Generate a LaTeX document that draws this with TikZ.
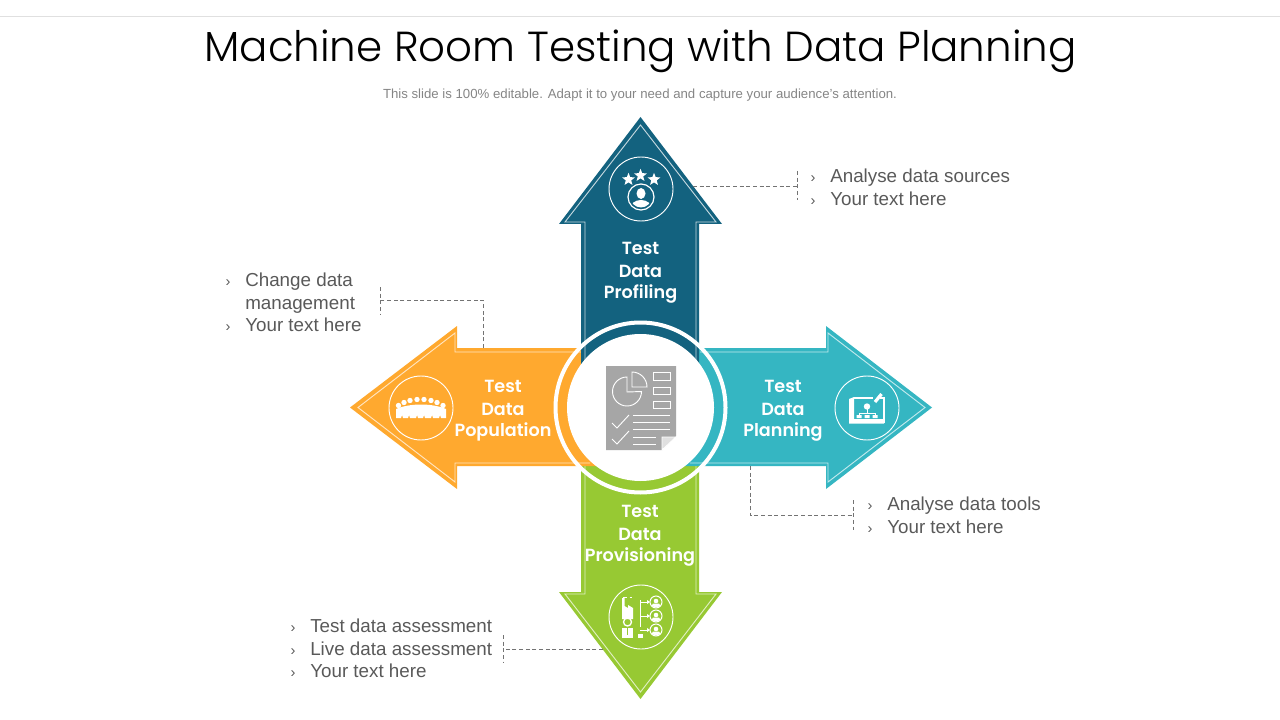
\documentclass[tikz,border=0pt]{standalone}
\usepackage{fontspec}
\setmainfont{Liberation Sans}
\newfontfamily\titlefont{Poppins}[UprightFont=* Light]
\newfontfamily\armfont{Poppins}[UprightFont=* SemiBold]
\usetikzlibrary{shapes.geometric}
\definecolor{armblue}{HTML}{13627F}
\definecolor{armorange}{HTML}{FFA92F}
\definecolor{armteal}{HTML}{35B6C2}
\definecolor{armgreen}{HTML}{97C933}
\definecolor{txtgray}{HTML}{595959}
\definecolor{docgray}{HTML}{A6A6A6}
\tikzset{
	armlabel/.style={text=white, font=\armfont\fontsize{13.2}{16}\selectfont, inner sep=0pt},
	listtxt/.style={anchor=mid west, text=txtgray, font=\fontsize{14.1}{17}\selectfont, inner sep=0pt},
	listmark/.style={anchor=mid, text=txtgray, font=\fontsize{11}{13}\selectfont, inner sep=0pt},
	leader/.style={draw=black!55, line width=0.35pt, densely dashed},
	iconline/.style={draw=white, line width=0.75pt},
	iconring/.style={draw=white, line width=0.7pt},
	docline/.style={draw=white, line width=0.7pt},
}

\begin{document}
\begin{tikzpicture}[x=0.75pt, y=-0.75pt]
		%%%%% START %%%%%
		\useasboundingbox (0, 0) rectangle (1280, 720);
		\draw[line width=0.5pt, color=black!12] (0, 16) -- (1280, 16);
		
		\node[inner sep=0pt, font=\titlefont\fontsize{31.5}{40}\selectfont] (title) at (640.5, 51.5) {Machine Room Testing with Data Planning};
		\node[inner sep=0pt, text=black!48, font=\fontsize{9.9}{12}\selectfont] (subtitle) at (640, 95.5) {This slide is 100\% editable. Adapt it to your need and capture your audience's attention.};
		
		% arms
		\fill[armgreen] (581, 466) -- (581, 592) -- (559, 592) -- (640.5, 699) -- (722, 592) -- (699, 592) -- (699, 466) -- cycle;
		\draw[line width=0.7pt, color=armgreen!30!white] (585, 466) -- (585, 594) -- (565, 594) -- (640.5, 692) -- (716, 594) -- (696, 594) -- (696, 466);
		
		\fill[armorange] (640, 348) -- (457, 348) -- (457, 326) -- (350, 407.5) -- (457, 489) -- (457, 466) -- (640, 466) -- cycle;
		\draw[line width=0.7pt, color=armorange!30!white] (581, 352) -- (455, 352) -- (455, 333) -- (358, 407.5) -- (455, 482) -- (455, 463) -- (590, 463);
		
		\fill[armteal] (640, 348) -- (826, 348) -- (826, 326) -- (932, 407.5) -- (826, 489) -- (826, 466) -- (640, 466) -- cycle;
		\draw[line width=0.7pt, color=armteal!30!white] (700, 352) -- (828, 352) -- (828, 333) -- (925, 407.5) -- (828, 482) -- (828, 463) -- (690, 463);
		
		\fill[armblue] (581, 407) -- (581, 224) -- (559, 224) -- (640.5, 117) -- (722, 224) -- (699, 224) -- (699, 407) -- cycle;
		\draw[line width=0.7pt, color=armblue!25!white] (585, 360) -- (585, 222) -- (565, 222) -- (640.5, 125) -- (716, 222) -- (696, 222) -- (696, 360);
		
		% centre
		\draw[line width=3pt, color=white] (640.5, 407.5) circle (85);
		\fill[white] (640.5, 407.5) circle (73.5);
		
		\fill[docgray] (606, 366) -- (676, 366) -- (676, 436) -- (662, 450) -- (606, 450) -- cycle;
		\draw[docline, fill=black!12] (662, 437) -- (676, 437) -- (662, 450) -- cycle;
		\draw[docline] (627, 377) arc (-90:-360:14.5) -- (627, 392) -- cycle;
		\draw[docline] (632, 372) arc (-90:0:15) -- (632, 387) -- cycle;
		\draw[docline] (653, 372) rectangle (670, 380);
		\draw[docline] (653, 387) rectangle (670, 394);
		\draw[docline] (653, 401) rectangle (670, 408);
		\draw[docline] (633, 415) -- (670, 415);
		\draw[docline] (633, 422) -- (670, 422);
		\draw[docline] (633, 429) -- (670, 429);
		\draw[docline] (633, 437) -- (656, 437);
		\draw[docline] (633, 444) -- (656, 444);
		\draw[docline] (612, 423) -- (617, 428) -- (629, 415);
		\draw[docline] (612, 439) -- (617, 444) -- (629, 431);
		
		% arm labels
		\node[armlabel] (profilinga) at (640.5, 248) {Test};
		\node[armlabel] (profilingb) at (640.5, 271) {Data};
		\node[armlabel] (profilingc) at (640.5, 294) {Profiling};
		\node[armlabel] (populationa) at (503, 386) {Test};
		\node[armlabel] (populationb) at (503, 409) {Data};
		\node[armlabel] (populationc) at (503, 432) {Population};
		\node[armlabel] (planninga) at (783, 386) {Test};
		\node[armlabel] (planningb) at (783, 409) {Data};
		\node[armlabel] (planningc) at (783, 432) {Planning};
		\node[armlabel] (provisiona) at (640, 511) {Test};
		\node[armlabel] (provisionb) at (640, 534) {Data};
		\node[armlabel] (provisionc) at (640, 557) {Provisioning};
		
		% icon rings
		\draw[iconring] (641, 189) circle (32);
		\draw[iconring] (421, 408) circle (32);
		\draw[iconring] (867, 408) circle (32);
		\draw[iconring] (641, 617) circle (32);
		
		% stars and person
		\foreach \px/\py in {628.5/179.5, 640.5/175.5, 654/179.5}
			\node[star, star points=5, star point ratio=2.3, fill=white, inner sep=0pt, minimum size=10pt] at (\px, \py) {};
		\draw[iconline, line width=0.9pt] (641, 197) circle (13);
		\begin{scope}
			\clip (641, 197) circle (10.5);
			\fill[white] (641, 193.5) ellipse (4.5 and 5.5);
			\fill[white] (641, 209) ellipse (11 and 9);
		\end{scope}
		
		% crowd
		\foreach \px/\py in {398.5/405.5, 404/402.5, 410/400.5, 417/399.5, 424/399.5, 431/400.5, 437/402.5, 443/405.5}
			\fill[white] (\px, \py) circle (2.7);
		\fill[white] (396, 418) -- (396, 409) .. controls (410, 403) and (432, 403) .. (446, 409) -- (446, 418)
			-- (441, 418) -- (440, 415) -- (439, 418) -- (433, 418) -- (432, 415) -- (431, 418) -- (425, 418) -- (424, 415) -- (423, 418)
			-- (418, 418) -- (417, 415) -- (416, 418) -- (410, 418) -- (409, 415) -- (408, 418) -- (403, 418) -- (402, 415) -- (401, 418) -- cycle;
		
		% plan sheet
		\fill[white] (849, 399) -- (854, 397) -- (854, 419) -- (884, 419) -- (884, 423.5) -- (849, 423.5) -- cycle;
		\draw[iconline, line width=1.2pt] (854, 398) -- (873, 398);
		\draw[iconline, line width=1.2pt] (880, 398) -- (884, 398) -- (884, 423);
		\fill[white] (867, 406.5) circle (3.2);
		\draw[iconline] (867, 408) -- (867, 413) (859, 416) -- (859, 413) -- (875, 413) -- (875, 416);
		\fill[white] (856.5, 415) rectangle (861.5, 418) (864.5, 415) rectangle (869.5, 418) (872.5, 415) rectangle (877.5, 418);
		\draw[iconline, line width=2.4pt] (881.5, 394) -- (875, 402);
		
		% factory and people
		\fill[white] (622, 598) -- (624.5, 598) -- (624.5, 606) -- (628, 608) -- (628, 605) -- (633, 608) -- (633, 619) -- (622, 619) -- cycle;
		\draw[iconline, densely dashed] (623, 597) -- (632, 597);
		\draw[iconline, line width=1pt] (627.5, 622) circle (4);
		\fill[white] (622, 628) rectangle (633, 638);
		\draw[armgreen, line width=0.8pt] (627.5, 628) -- (627.5, 635);
		\draw[iconline] (640, 600) -- (640, 627);
		\fill[white] (638, 634) rectangle (642.5, 638);
		\foreach \py in {602, 616, 630}{
			\draw[iconline] (640, \py) -- (647, \py);
			\fill[white] (647, \py-2) -- (650, \py) -- (647, \py+2) -- cycle;
			\draw[iconline] (656, \py) circle (6);
			\fill[white] (656, \py-1) circle (2.3);
			\fill[white] (651.5, \py+4) -- (653, \py+1.5) -- (659, \py+1.5) -- (660.5, \py+4) -- (656, \py+5.5) -- cycle;
		}
		
		% leaders
		\coordinate (profilingend) at (693, 186);
		\coordinate (profilingstop) at (797, 186);
		\coordinate (profilingup) at (797, 171);
		\coordinate (profilingdown) at (797, 200);
		\draw[leader] (profilingend) -- (profilingstop);
		\draw[leader] (profilingup) -- (profilingdown);
		
		\coordinate (populationend) at (483, 348);
		\coordinate (populationbend) at (483, 300);
		\coordinate (populationstop) at (380, 300);
		\coordinate (populationup) at (380, 287);
		\coordinate (populationdown) at (380, 315);
		\draw[leader] (populationend) -- (populationbend) -- (populationstop);
		\draw[leader] (populationup) -- (populationdown);
		
		\coordinate (planningend) at (750, 466);
		\coordinate (planningbend) at (750, 515);
		\coordinate (planningstop) at (853, 515);
		\coordinate (planningup) at (853, 500);
		\coordinate (planningdown) at (853, 530);
		\draw[leader] (planningend) -- (planningbend) -- (planningstop);
		\draw[leader] (planningup) -- (planningdown);
		
		\coordinate (provisionend) at (603, 649);
		\coordinate (provisionstop) at (503, 649);
		\coordinate (provisionup) at (503, 635);
		\coordinate (provisiondown) at (503, 663);
		\draw[leader] (provisionend) -- (provisionstop);
		\draw[leader] (provisionup) -- (provisiondown);
		
		% lists
		\node[listmark] (marka) at (813, 178.5) {›};
		\node[listtxt] (sources) at (830, 178.5) {Analyse data sources};
		\node[listmark] (markb) at (813, 201.5) {›};
		\node[listtxt] (sourcestxt) at (830, 201.5) {Your text here};
		
		\node[listmark] (markc) at (228, 282.5) {›};
		\node[listtxt] (change) at (245, 282.5) {Change data};
		\node[listtxt] (manage) at (245, 305.5) {management};
		\node[listmark] (markd) at (228, 327.5) {›};
		\node[listtxt] (changetxt) at (245, 327.5) {Your text here};
		
		\node[listmark] (marke) at (870, 506.5) {›};
		\node[listtxt] (tools) at (887, 506.5) {Analyse data tools};
		\node[listmark] (markf) at (870, 529.5) {›};
		\node[listtxt] (toolstxt) at (887, 529.5) {Your text here};
		
		\node[listmark] (markg) at (293, 628.5) {›};
		\node[listtxt] (testdata) at (310, 628.5) {Test data assessment};
		\node[listmark] (markh) at (293, 651.5) {›};
		\node[listtxt] (livedata) at (310, 651.5) {Live data assessment};
		\node[listmark] (marki) at (293, 673.5) {›};
		\node[listtxt] (assesstxt) at (310, 673.5) {Your text here};
		
		%%%%% END %%%%%
	\end{tikzpicture}
\end{document}
